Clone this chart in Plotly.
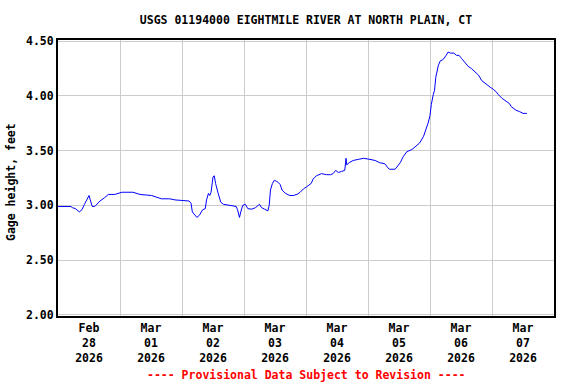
import plotly.graph_objects as go

times = [
    "2026-02-28 00:00", "2026-02-28 05:00", "2026-02-28 05:30", "2026-02-28 06:45", "2026-02-28 08:15",
    "2026-02-28 09:15", "2026-02-28 10:15", "2026-02-28 11:00", "2026-02-28 12:00", "2026-02-28 12:30",
    "2026-02-28 13:15", "2026-02-28 14:15", "2026-02-28 15:30", "2026-02-28 16:15", "2026-02-28 18:00",
    "2026-02-28 19:30", "2026-02-28 22:00", "2026-03-01 00:45", "2026-03-01 05:00", "2026-03-01 07:45",
    "2026-03-01 12:15", "2026-03-01 16:00", "2026-03-01 19:15", "2026-03-01 21:15", "2026-03-02 02:45",
    "2026-03-02 03:30", "2026-03-02 04:00", "2026-03-02 05:45", "2026-03-02 06:45", "2026-03-02 08:00",
    "2026-03-02 09:00", "2026-03-02 09:30", "2026-03-02 10:15", "2026-03-02 10:45", "2026-03-02 11:15",
    "2026-03-02 12:00", "2026-03-02 12:30", "2026-03-02 13:00", "2026-03-02 14:00", "2026-03-02 15:00",
    "2026-03-02 16:00", "2026-03-02 18:30", "2026-03-02 21:00", "2026-03-02 21:30", "2026-03-02 22:15",
    "2026-03-02 22:45", "2026-03-02 23:30", "2026-03-03 00:30", "2026-03-03 01:30", "2026-03-03 03:00",
    "2026-03-03 04:30", "2026-03-03 06:00", "2026-03-03 06:45", "2026-03-03 08:00", "2026-03-03 09:15",
    "2026-03-03 09:45", "2026-03-03 10:15", "2026-03-03 11:00", "2026-03-03 11:45", "2026-03-03 12:30",
    "2026-03-03 13:15", "2026-03-03 14:00", "2026-03-03 14:45", "2026-03-03 16:00", "2026-03-03 17:45",
    "2026-03-03 19:00", "2026-03-03 20:30", "2026-03-03 21:45", "2026-03-03 23:00", "2026-03-04 00:15",
    "2026-03-04 02:00", "2026-03-04 02:45", "2026-03-04 04:00", "2026-03-04 06:00", "2026-03-04 08:00",
    "2026-03-04 09:30", "2026-03-04 10:30", "2026-03-04 11:30", "2026-03-04 12:30", "2026-03-04 13:45",
    "2026-03-04 15:00", "2026-03-04 15:30", "2026-03-04 15:45", "2026-03-04 16:45", "2026-03-04 18:15",
    "2026-03-04 20:15", "2026-03-04 22:15", "2026-03-05 00:45", "2026-03-05 02:45", "2026-03-05 04:30",
    "2026-03-05 06:30", "2026-03-05 07:30", "2026-03-05 08:15", "2026-03-05 10:30", "2026-03-05 11:15",
    "2026-03-05 12:30", "2026-03-05 13:30", "2026-03-05 15:00", "2026-03-05 17:00", "2026-03-05 18:30",
    "2026-03-05 20:00", "2026-03-05 21:30", "2026-03-05 22:30", "2026-03-05 23:15", "2026-03-06 00:00",
    "2026-03-06 00:30", "2026-03-06 01:15", "2026-03-06 01:45", "2026-03-06 02:15", "2026-03-06 02:45",
    "2026-03-06 03:15", "2026-03-06 04:00", "2026-03-06 05:00", "2026-03-06 06:15", "2026-03-06 07:00",
    "2026-03-06 08:00", "2026-03-06 09:15", "2026-03-06 10:15", "2026-03-06 11:15", "2026-03-06 12:15",
    "2026-03-06 13:30", "2026-03-06 14:45", "2026-03-06 16:00", "2026-03-06 17:30", "2026-03-06 18:45",
    "2026-03-06 20:00", "2026-03-06 21:30", "2026-03-06 23:15", "2026-03-07 00:30", "2026-03-07 01:30",
    "2026-03-07 02:30", "2026-03-07 03:45", "2026-03-07 05:30", "2026-03-07 06:45", "2026-03-07 07:30",
    "2026-03-07 09:15", "2026-03-07 10:45", "2026-03-07 12:00", "2026-03-07 13:30",
]

gage_height = [
    2.99, 2.99, 2.98, 2.97, 2.94,
    2.96, 3.01, 3.05, 3.09, 3.05,
    2.99, 2.99, 3.02, 3.04, 3.07,
    3.10, 3.10, 3.12, 3.12, 3.10,
    3.09, 3.06, 3.06, 3.05, 3.04,
    3.02, 2.94, 2.89, 2.91, 2.96,
    2.97, 3.05, 3.11, 3.09, 3.12,
    3.26, 3.27, 3.20, 3.11, 3.03,
    3.01, 3.00, 2.99, 2.96, 2.89,
    2.94, 3.00, 3.01, 2.97, 2.965,
    2.98, 3.01, 2.98, 2.965, 2.95,
    3.00, 3.14, 3.20, 3.23, 3.22,
    3.21, 3.19, 3.14, 3.11, 3.09,
    3.09, 3.10, 3.12, 3.15, 3.17,
    3.20, 3.24, 3.27, 3.29, 3.28,
    3.28, 3.29, 3.32, 3.30, 3.31,
    3.32, 3.43, 3.37, 3.39, 3.41,
    3.42, 3.43, 3.42, 3.41, 3.39,
    3.38, 3.35, 3.33, 3.33, 3.35,
    3.39, 3.44, 3.49, 3.51, 3.54,
    3.57, 3.63, 3.69, 3.75, 3.82,
    3.92, 4.01, 4.05, 4.17, 4.22,
    4.28, 4.32, 4.33, 4.37, 4.40,
    4.39, 4.39, 4.37, 4.37, 4.34,
    4.30, 4.27, 4.25, 4.22, 4.19,
    4.14, 4.11, 4.08, 4.06, 4.04,
    4.01, 3.98, 3.95, 3.93, 3.90,
    3.87, 3.855, 3.84, 3.84,
]

y_ticks = [2.0, 2.5, 3.0, 3.5, 4.0, 4.5]

title_text = "USGS 01194000 EIGHTMILE RIVER AT NORTH PLAIN, CT"
y_title = "Gage height, feet"
note_text = "---- Provisional Data Subject to Revision ----"

FONT = "DejaVu Sans Mono"

fig = go.Figure()
fig.add_trace(go.Scatter(
    x=times, y=gage_height, mode="lines",
    line=dict(color="#0000ff", width=1),
    hoverinfo="skip", showlegend=False,
))

fig.update_layout(
    width=576, height=384,
    margin=dict(l=58, r=22, t=40, b=68),
    paper_bgcolor="white", plot_bgcolor="white",
    font=dict(family=FONT, size=11.5, color="black", weight="bold"),
    title=dict(text=title_text, x=0.5, xref="paper", y=1 - 20 / 384, yanchor="middle",
               font=dict(family=FONT, size=11.5, color="black", weight="bold")),
)

fig.update_xaxes(
    type="date",
    range=["2026-02-28 00:00", "2026-03-08 00:00"],
    tick0="2026-02-28 00:00", dtick=86400000,
    ticklabelmode="period",
    tickformat="%b<br>%d<br>%Y",
    showgrid=True, gridcolor="#cccccc", gridwidth=1,
    showline=True, linecolor="black", linewidth=2, mirror=True,
    ticks="", zeroline=False,
    tickfont=dict(family=FONT, size=11.5, color="black", weight="bold"),
)

fig.update_yaxes(
    range=[1.99, 4.51],
    tickmode="array", tickvals=y_ticks, ticktext=[f"{v:.2f}" for v in y_ticks],
    showgrid=True, gridcolor="#cccccc", gridwidth=1,
    showline=True, linecolor="black", linewidth=2, mirror=True,
    ticks="", zeroline=False,
    tickfont=dict(family=FONT, size=11.5, color="black", weight="bold"),
)

fig.add_annotation(
    text=y_title, textangle=-90, showarrow=False,
    xref="paper", yref="paper", x=(11 - 58) / 496, y=0.5 - 4 / 276,
    xanchor="center", yanchor="middle",
    font=dict(family=FONT, size=11.5, color="black", weight="bold"),
)

fig.add_annotation(
    text=note_text, showarrow=False,
    xref="paper", yref="paper", x=0.5, y=-(375 - 316) / 276,
    xanchor="center", yanchor="middle",
    font=dict(family=FONT, size=11.5, color="red", weight="bold"),
)

fig.write_html(
    "out.html",
    config={"displayModeBar": False},
    post_script="document.body.style.margin='0px';document.body.style.padding='0px';",
)
